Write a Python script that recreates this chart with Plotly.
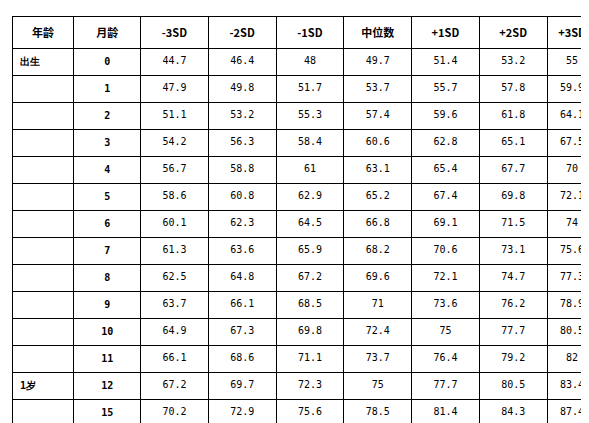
import plotly.graph_objs as go

# WHO boys length-for-age table (cm)
header = ['年龄', '月龄', '-3SD', '-2SD', '-1SD', '中位数', '+1SD', '+2SD', '+3SD']
age = ['出生', '', '', '', '', '', '', '', '', '', '', '', '1岁', '', '', '', '2岁', '', '', '', '3岁', '', '', '']
months = [0, 1, 2, 3, 4, 5, 6, 7, 8, 9, 10, 11, 12, 15, 18, 21, 24, 27, 30, 33, 36, 39, 42, 45]
sd_m3 = [44.7, 47.9, 51.1, 54.2, 56.7, 58.6, 60.1, 61.3, 62.5, 63.7, 64.9, 66.1, 67.2, 70.2, 72.8, 75.1, 77.3, 79.3, 81.4, 83.4, 85.4, 86.6, 88.4, 90.1]
sd_m2 = [46.4, 49.8, 53.2, 56.3, 58.8, 60.8, 62.3, 63.6, 64.8, 66.1, 67.3, 68.6, 69.7, 72.9, 75.6, 78.1, 80.5, 82.7, 84.8, 86.9, 88.9, 90.1, 91.9, 93.7]
sd_m1 = [48, 51.7, 55.3, 58.4, 61, 62.9, 64.5, 65.9, 67.2, 68.5, 69.8, 71.1, 72.3, 75.6, 78.5, 81.2, 83.8, 86.2, 88.4, 90.5, 92.5, 93.8, 95.6, 97.4]
median = [49.7, 53.7, 57.4, 60.6, 63.1, 65.2, 66.8, 68.2, 69.6, 71, 72.4, 73.7, 75, 78.5, 81.5, 84.4, 87.2, 89.8, 92.1, 94.3, 96.3, 97.5, 99.4, 101.2]
sd_p1 = [51.4, 55.7, 59.6, 62.8, 65.4, 67.4, 69.1, 70.6, 72.1, 73.6, 75, 76.4, 77.7, 81.4, 84.6, 87.7, 90.7, 93.5, 95.9, 98.1, 100.1, 101.4, 103.3, 105.1]
sd_p2 = [53.2, 57.8, 61.8, 65.1, 67.7, 69.8, 71.5, 73.1, 74.7, 76.2, 77.7, 79.2, 80.5, 84.3, 87.7, 91.1, 94.3, 97.3, 99.8, 102, 104.1, 105.4, 107.2, 109.0]
sd_p3 = [55, 59.9, 64.1, 67.5, 70, 72.1, 74, 75.6, 77.3, 78.9, 80.5, 82, 83.4, 87.4, 91, 94.5, 98, 101.2, 103.8, 106.1, 108.1, 109.4, 111.3, 113.0]

values = [age, months, sd_m3, sd_m2, sd_m1, median, sd_p1, sd_p2, sd_p3]

fig = go.Figure(go.Table(
    columnwidth=[62, 67, 68, 68, 68, 68, 68, 68, 50],
    header=dict(
        values=['<b>%s</b>' % h for h in header],
        align='center',
        height=18,
        line=dict(color='black', width=1),
        fill=dict(color='white'),
        font=dict(family='Noto Sans CJK SC', size=11, color='black'),
    ),
    cells=dict(
        values=[['<b>%s</b>' % a for a in age], ['<b>%s</b>' % m for m in months]] + values[2:],
        align=['left', 'center'] + ['center'] * 7,
        height=16,
        line=dict(color='black', width=1),
        fill=dict(color='white'),
        font=dict(family='DejaVu Sans Mono', size=10, color='black'),
    ),
))

fig.update_layout(
    width=589, height=423,
    margin=dict(l=4, r=0, t=8, b=0),
    paper_bgcolor='white',
)

fig.write_html("out.html")
